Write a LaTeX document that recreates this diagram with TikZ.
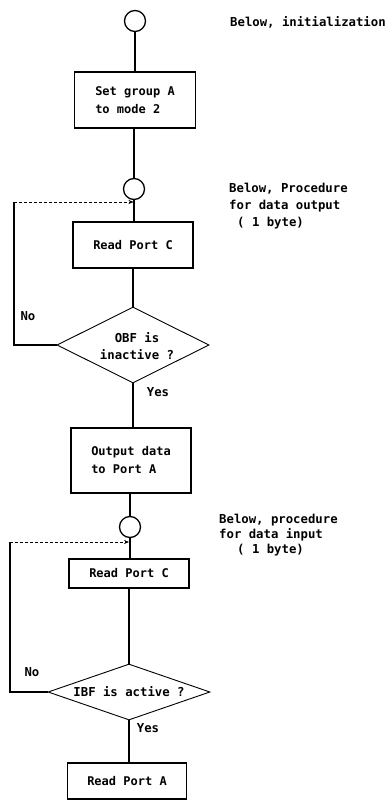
\documentclass[tikz,border=0pt]{standalone}
\usepackage{fontspec}
\setmainfont{DejaVu Sans Mono}
\usetikzlibrary{shapes.geometric,arrows.meta}
\tikzset{
  txt/.style={font=\bfseries\fontsize{12.3}{17}\selectfont, inner sep=0pt},
  proc/.style={draw, line width=1.6pt, inner sep=0pt, align=left,
               font=\bfseries\fontsize{12}{18}\selectfont},
  conn/.style={circle, draw, line width=1.3pt, minimum size=21pt, inner sep=0pt},
  dec/.style={diamond, draw, line width=0.9pt, inner sep=0pt},
  flow/.style={line width=1.2pt},
  back/.style={line width=0.6pt, densely dashed, -{Stealth[length=5pt,width=4pt]}},
  side/.style={line width=1.1pt}
}
\begin{document}
\begin{tikzpicture}[x=1pt,y=-1pt]
\useasboundingbox (0,0) rectangle (390,800);
% connectors and boxes
\node[conn] (c1) at (135,21) {};
\node[proc, minimum width=121pt, minimum height=56pt] (b1) at (135,100) {Set group A\\to mode 2\hspace*{8pt}};
\node[conn] (c2) at (134,189) {};
\node[proc, minimum width=120pt, minimum height=46pt] (r1) at (133,245) {Read Port C};
\node[dec, minimum width=152pt, minimum height=76pt] (d1) at (133,345) {};
\node[txt, align=center] (d1t) at (137,346) {OBF is\\inactive ?};
\node[proc, minimum width=120pt, minimum height=65pt] (o1) at (131,460.5) {Output data\\to Port A\hspace*{6pt}};
\node[conn] (c3) at (130,527) {};
\node[proc, minimum width=120pt, minimum height=29pt] (r2) at (129,573.5) {Read Port C};
\node[dec, minimum width=162pt, minimum height=56pt] (d2) at (129,692) {};
\node[txt] (d2t) at (129,692) {IBF is active ?};
\node[proc, minimum width=119pt, minimum height=36pt] (ra) at (127,781) {Read Port A};
% main flow
\draw[flow] (c1.south) -- (c1.south |- b1.north);
\draw[flow] (b1.south -| c2) -- (c2.north);
\draw[flow] (c2.south) -- (c2.south |- r1.north);
\draw[flow] (r1.south) -- (d1.north);
\draw[flow] (d1.south) -- (d1.south |- o1.north);
\draw[flow] (o1.south -| c3) -- (c3.north);
\draw[flow] (c3.south) -- (c3.south |- r2.north);
\draw[flow] (r2.south) -- (d2.north);
\draw[flow] (d2.south) -- (d2.south |- ra.north);
% loops
\coordinate (l1) at (14,202);
\coordinate (a1) at (133.5,202);
\draw[side] (d1.west) -| (l1);
\draw[back] (l1) -- (a1);
\coordinate (l2) at (10,542);
\coordinate (a2) at (129,542);
\draw[side] (d2.west) -| (l2);
\draw[back] (l2) -- (a2);
% labels
\node[txt] (no1) at (28,316) {No};
\node[txt] (yes1) at (158,392) {Yes};
\node[txt] (no2) at (32,672) {No};
\node[txt] (yes2) at (148,728) {Yes};
% side notes
\node[txt, anchor=west] (n1) at (230,22) {Below, initialization};
\node[txt, anchor=west] (n2a) at (229,189) {Below, Procedure};
\node[txt, anchor=west] (n2b) at (229,206) {for data output};
\node[txt, anchor=west] (n2c) at (237,223) {( 1 byte)};
\node[txt, anchor=west] (n3a) at (219,520) {Below, procedure};
\node[txt, anchor=west] (n3b) at (219,535) {for data input};
\node[txt, anchor=west] (n3c) at (237,550) {( 1 byte)};
\end{tikzpicture}
\end{document}
